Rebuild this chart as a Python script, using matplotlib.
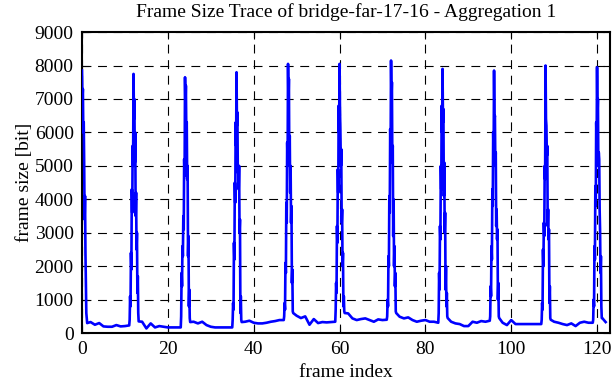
import numpy as np
import matplotlib
matplotlib.use("Agg")
import matplotlib.pyplot as plt

# --- data ---
peak_frames = [12, 24, 36, 48, 60, 72, 84, 96, 108, 120]
# sub-frame samples around each big frame (offset from the peak frame)
peak_offsets = [-0.9, -0.8, -0.7, -0.6, -0.5, -0.4, -0.3, -0.2, -0.1, 0.0, 0.1,
                0.2, 0.3, 0.4, 0.5, 0.6, 0.7, 0.8, 0.9, 1.0, 1.1, 1.2]
peak_values = [
    [400, 1100, 800, 2400, 1900, 4300, 3600, 5600, 5000, 7750, 6400,
     7000, 5100, 6000, 3500, 4200, 2500, 3000, 1200, 1700, 600, 350],
    [500, 1800, 1400, 2600, 2300, 3500, 3100, 5200, 4700, 7650, 6800,
     7400, 6000, 6300, 4600, 5000, 2300, 2900, 800, 1300, 450, 330],
    [400, 900, 700, 2700, 2200, 4500, 3900, 6300, 5600, 7800, 6200,
     6600, 4800, 5000, 4300, 5000, 3000, 3400, 600, 1100, 400, 330],
    [500, 900, 700, 2100, 1800, 3900, 3300, 5700, 5100, 8050, 6900,
     7600, 5000, 5900, 4200, 5000, 3300, 3800, 1500, 1900, 650, 600],
    [700, 1500, 1200, 3200, 2700, 4900, 4200, 6800, 6000, 8050, 6700,
     6000, 5000, 5500, 3300, 3700, 2000, 2400, 800, 1100, 650, 600],
    [500, 1000, 800, 2300, 2000, 4100, 3600, 6100, 5500, 8150, 7000,
     7500, 5100, 5600, 2900, 4000, 2000, 2600, 1400, 1800, 650, 600],
    [600, 1800, 1300, 3200, 2800, 5000, 4300, 6800, 6000, 7900, 6300,
     6700, 4100, 5100, 3000, 3600, 1300, 2000, 800, 1200, 500, 450],
    [500, 1400, 1100, 2600, 2200, 4300, 3800, 6000, 5300, 7850, 6400,
     6500, 5000, 5400, 3200, 3700, 2800, 3100, 1000, 1500, 500, 450],
    [400, 900, 700, 2500, 2000, 3300, 2900, 5000, 4600, 8000, 6400,
     6200, 5300, 5600, 3200, 3700, 2800, 3100, 900, 1400, 450, 400],
    [400, 1000, 800, 2600, 2200, 4400, 3800, 6300, 5700, 7950, 6500,
     7000, 5000, 5400, 5200, 3700, 3100, 1800, 2300, 800, 450, 450],
]

# first I-frame (only the falling edge is visible)
first_offsets = [0.0, 0.1, 0.2, 0.3, 0.4, 0.5, 0.6, 0.7, 0.8, 0.9, 1.0, 1.2]
first_values = [7850, 7000, 7300, 6000, 6300, 5100, 3400, 4100, 2400, 1500, 600, 300]

# frames 12k+2 .. 12k+11 between the big frames
gop_base = [
    [330, 250, 300, 200, 190, 190, 240, 200, 210, 230],
    [340, 140, 290, 170, 210, 190, 170, 170, 170, 170],
    [340, 290, 340, 240, 190, 170, 170, 170, 170, 170],
    [340, 370, 310, 290, 290, 310, 340, 360, 390, 390],
    [520, 450, 500, 250, 420, 300, 330, 320, 330, 340],
    [590, 440, 390, 420, 440, 390, 340, 410, 390, 400],
    [490, 440, 470, 390, 340, 370, 390, 340, 340, 310],
    [340, 290, 270, 210, 210, 340, 310, 360, 340, 370],
    [310, 240, 390, 270, 270, 270, 270, 270, 270, 270],
    [340, 310, 270, 240, 290, 210, 310, 340, 310, 310],
]

tail_frames = [122]
tail_values = [330]


def build_trace():
    xs = list(first_offsets)
    ys = list(first_values)
    for k, base in enumerate(gop_base):
        start = 12 * k + 2
        xs += list(range(start, start + len(base)))
        ys += base
        p = peak_frames[k]
        xs += [p + o for o in peak_offsets]
        ys += peak_values[k]
    xs += tail_frames
    ys += tail_values
    return np.array(xs), np.array(ys)


x, y = build_trace()

plt.rcParams['font.family'] = ['Liberation Serif', 'DejaVu Serif']
plt.rcParams['font.size'] = 14

fig = plt.figure(figsize=(6.13, 3.82), dpi=100)
ax = fig.add_axes([0.1338, 0.128, 0.8612, 0.788])

ax.plot(x, y, color='#0000ff', linewidth=1.9, zorder=3)

ax.set_xlim(0, 123)
ax.set_ylim(0, 9000)
ax.set_xticks(range(0, 121, 20))
ax.set_yticks(range(0, 9001, 1000))

ax.grid(True, color='black', linestyle=(0, (8, 6)), linewidth=0.8)
ax.tick_params(direction='in', top=True, right=True, length=5, width=0.8,
               labelsize=14, pad=6)
for s in ax.spines.values():
    s.set_linewidth(1.5)

ax.set_xlabel('frame index', fontsize=14, labelpad=4)
ax.set_ylabel('frame size [bit]', fontsize=14, labelpad=1)
ax.set_title('Frame Size Trace of bridge-far-17-16 - Aggregation 1',
             fontsize=14, pad=11)

fig.savefig('out.png', dpi=100)
